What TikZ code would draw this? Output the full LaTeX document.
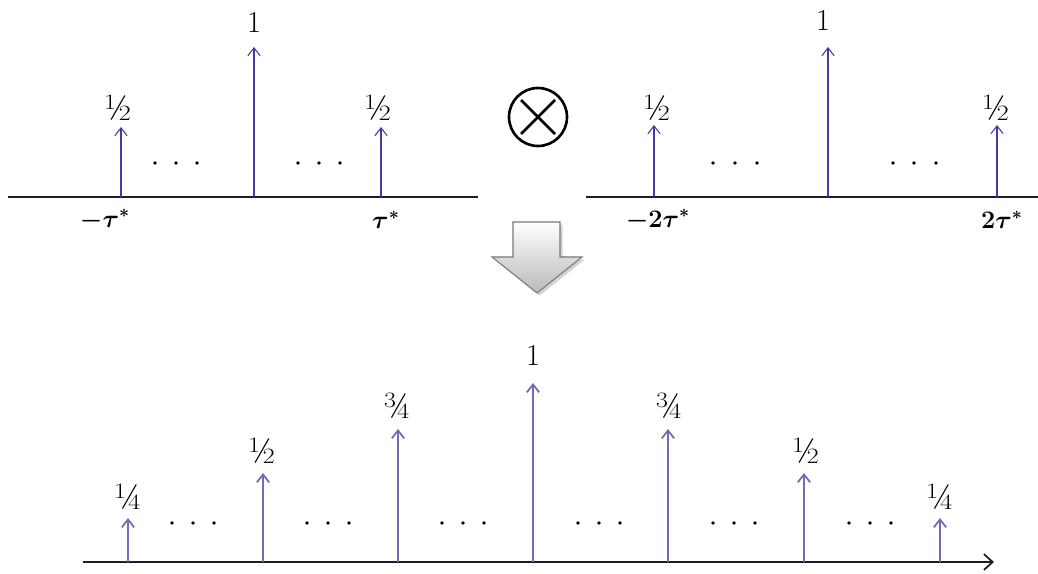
\documentclass[tikz,border=0pt]{standalone}
\usepackage{amsmath,amssymb}
\usepackage{xcolor}
\usetikzlibrary{arrows.meta,positioning,shadows,calc}
\definecolor{impblue}{RGB}{66,58,168}
\definecolor{implight}{RGB}{112,108,186}
\definecolor{axisgray}{RGB}{30,30,30}
\definecolor{blockedge}{RGB}{120,120,120}

\begin{document}
\begin{tikzpicture}[x=0.02cm, y=-0.02cm,
    impulse/.style={-{Straight Barb[length=4.5pt,width=7pt]}, impblue, line width=0.6pt},
    impulsebot/.style={-{Straight Barb[length=4.5pt,width=7pt]}, implight, line width=1pt},
    axisline/.style={axisgray, line width=1pt},
    unitlbl/.style={font=\LARGE, inner sep=0pt},
    fraclbl/.style={font=\huge, inner sep=0pt},
    taulbl/.style={font=\Large\boldmath, inner sep=0pt}]
    \useasboundingbox (0,0) rectangle (1038,574);

    % top left: spacing tau*
    \coordinate (axLa) at (8,197);
    \coordinate (axLb) at (478,197);
    \draw [axisline] (axLa) -- (axLb);
    \coordinate (bL1) at (121,197); \coordinate (tL1) at (121,127);
    \coordinate (bL2) at (254,197); \coordinate (tL2) at (254,47);
    \coordinate (bL3) at (381,197); \coordinate (tL3) at (381,127);
    \draw [impulse] (bL1) -- (tL1);
    \draw [impulse] (bL2) -- (tL2);
    \draw [impulse] (bL3) -- (tL3);
    \node [fraclbl] (hL1) at (118,108) {½};
    \node [unitlbl] (oneL) at (254,22) {1};
    \node [fraclbl] (hL3) at (378,108) {½};
    \node [taulbl] (mtau) at (105,220) {$-\tau^{*}$};
    \node [taulbl] (ptau) at (386,220) {$\tau^{*}$};
    \foreach \x in {155,176,197,298,319,340}
        \fill (\x,163) circle (1.8);

    % product sign
    \node [circle, draw, line width=1.5pt, minimum size=1.16cm, inner sep=0pt] (otimes) at (538,117) {};
    \draw [line width=1.5pt] ($(otimes)+(-17,-17)$) -- ($(otimes)+(17,17)$);
    \draw [line width=1.5pt] ($(otimes)+(-17,17)$) -- ($(otimes)+(17,-17)$);

    % top right: spacing 2tau*
    \coordinate (axRa) at (586,197);
    \coordinate (axRb) at (1038,197);
    \draw [axisline] (axRa) -- (axRb);
    \coordinate (bR1) at (654,197); \coordinate (tR1) at (654,125);
    \coordinate (bR2) at (828,197); \coordinate (tR2) at (828,47);
    \coordinate (bR3) at (997,197); \coordinate (tR3) at (997,125);
    \draw [impulse] (bR1) -- (tR1);
    \draw [impulse] (bR2) -- (tR2);
    \draw [impulse] (bR3) -- (tR3);
    \node [fraclbl] (hR1) at (657,108) {½};
    \node [unitlbl] (oneR) at (823,20) {1};
    \node [fraclbl] (hR3) at (996,108) {½};
    \node [taulbl] (mtwotau) at (658,220) {$-2\tau^{*}$};
    \node [taulbl] (ptwotau) at (1002,220) {$2\tau^{*}$};
    \foreach \x in {713,735,757,893,914,936}
        \fill (\x,163) circle (1.8);

    % block arrow
    \draw [blockedge, line width=0.6pt, top color=white, bottom color=gray!55, drop shadow={opacity=0.35, shadow xshift=1.5pt, shadow yshift=-1.5pt}]
        (513,222) -- (560,222) -- (560,257) -- (582,257) -- (537,293) -- (492,257) -- (513,257) -- cycle;

    % bottom: result
    \coordinate (axBa) at (83,562);
    \coordinate (axBb) at (994,562);
    \draw [axisline, -{Straight Barb[length=5pt,width=9pt]}] (axBa) -- (axBb);
    \foreach \x/\t/\n in {128/518/1, 263/473/2, 398/429/3, 533/383/4, 668/429/5, 804/473/6, 940/518/7} {
        \coordinate (bB\n) at (\x,562);
        \coordinate (tB\n) at (\x,\t);
        \draw [impulsebot] (bB\n) -- (tB\n);
    }
    \node [fraclbl] (qB1) at (128,497) {¼};
    \node [fraclbl] (qB2) at (262,451) {½};
    \node [fraclbl] (qB3) at (397,406) {¾};
    \node [unitlbl] (oneB) at (533,355) {1};
    \node [fraclbl] (qB5) at (669,406) {¾};
    \node [fraclbl] (qB6) at (806,451) {½};
    \node [fraclbl] (qB7) at (940,497) {¼};
    \foreach \x in {172,193,214,307,328,349,442,463,484,578,599,620,713,734,755,849,870,891}
        \fill (\x,523) circle (1.8);
\end{tikzpicture}
\end{document}
